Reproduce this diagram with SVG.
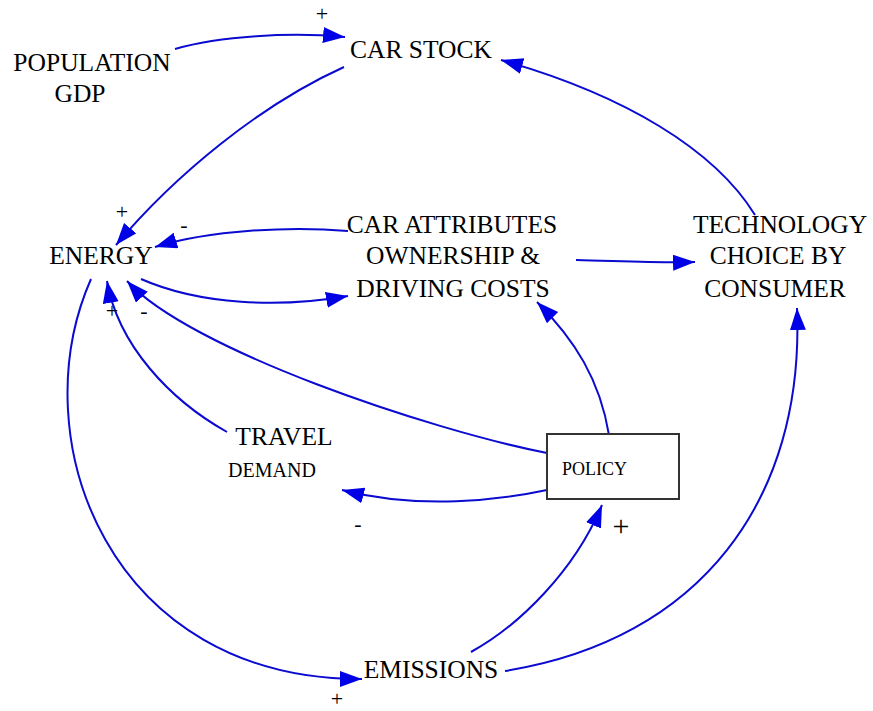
<svg xmlns="http://www.w3.org/2000/svg" width="873" height="711" viewBox="0 0 873 711">
<style>
text{font-family:"Times New Roman","Liberation Serif","DejaVu Serif",serif;fill:#000}
.lbl{font-size:25.5px;text-anchor:middle}
.sm{font-size:20px;text-anchor:middle}
.pol{font-size:18px}
.sg{font-size:22px;text-anchor:middle}
.cn path{fill:none;stroke:#0a0ad0;stroke-width:2;marker-end:url(#ah)}
</style>
<defs>
<marker id="ah" markerUnits="userSpaceOnUse" markerWidth="24" markerHeight="18" refX="22" refY="8" orient="auto">
<path d="M0,0 L22,8 L0,16 z" fill="#0000e6"/>
</marker>
</defs>
<rect width="873" height="711" fill="#fff"/>
<g id="connectors" class="cn">
<path d="M175,49 C220,36 290,32 345,37"/>
<path d="M344,67 C260,105 175,175 116,245"/>
<path d="M755,215 C715,150 625,95 501,60"/>
<path d="M348,231 C290,226 210,230 155,247"/>
<path d="M576,260 C620,261 660,263 695,262"/>
<path d="M141,279 C200,305 280,308 348,296"/>
<path d="M547,453 C430,430 190,350 127,281"/>
<path d="M227,432 C170,400 118,345 107,281"/>
<path d="M609,435 C600,380 575,340 537,302"/>
<path d="M547,490 C500,500 420,510 342,490"/>
<path d="M471,652 C520,625 575,570 602,505"/>
<path d="M505,671 C700,640 805,500 797,308"/>
<path d="M91,279 C20,440 110,680 362,679"/>
</g>
<g id="population-gdp"><text class="lbl" x="92" y="71">POPULATION</text><text class="lbl" x="80" y="102">GDP</text></g>
<g id="car-stock"><text class="lbl" x="421" y="58">CAR STOCK</text></g>
<g id="energy"><text class="lbl" x="101" y="264">ENERGY</text></g>
<g id="car-attributes"><text class="lbl" x="452" y="233">CAR ATTRIBUTES</text><text class="lbl" x="453" y="264">OWNERSHIP &amp;</text><text class="lbl" x="453" y="297">DRIVING COSTS</text></g>
<g id="technology-choice"><text class="lbl" x="780" y="233">TECHNOLOGY</text><text class="lbl" x="778" y="264">CHOICE BY</text><text class="lbl" x="775" y="297">CONSUMER</text></g>
<g id="travel-demand"><text class="lbl" x="284" y="445">TRAVEL</text><text class="sm" x="272" y="477">DEMAND</text></g>
<g id="policy"><rect x="547" y="434" width="132" height="65" fill="#fff" stroke="#333" stroke-width="2"/><text class="pol" x="562" y="475">POLICY</text></g>
<g id="emissions"><text class="lbl" x="431" y="678">EMISSIONS</text></g>
<g id="signs">
<text class="sg" x="322" y="21">+</text>
<text class="sg" x="122" y="219">+</text>
<text class="sg" x="184" y="232">-</text>
<text class="sg" x="112" y="318">+</text>
<text class="sg" x="144" y="318">-</text>
<text class="sg" x="358" y="531">-</text>
<text class="sg" x="621" y="536" style="font-size:30px">+</text>
<text class="sg" x="337" y="706">+</text>
</g>
</svg>
